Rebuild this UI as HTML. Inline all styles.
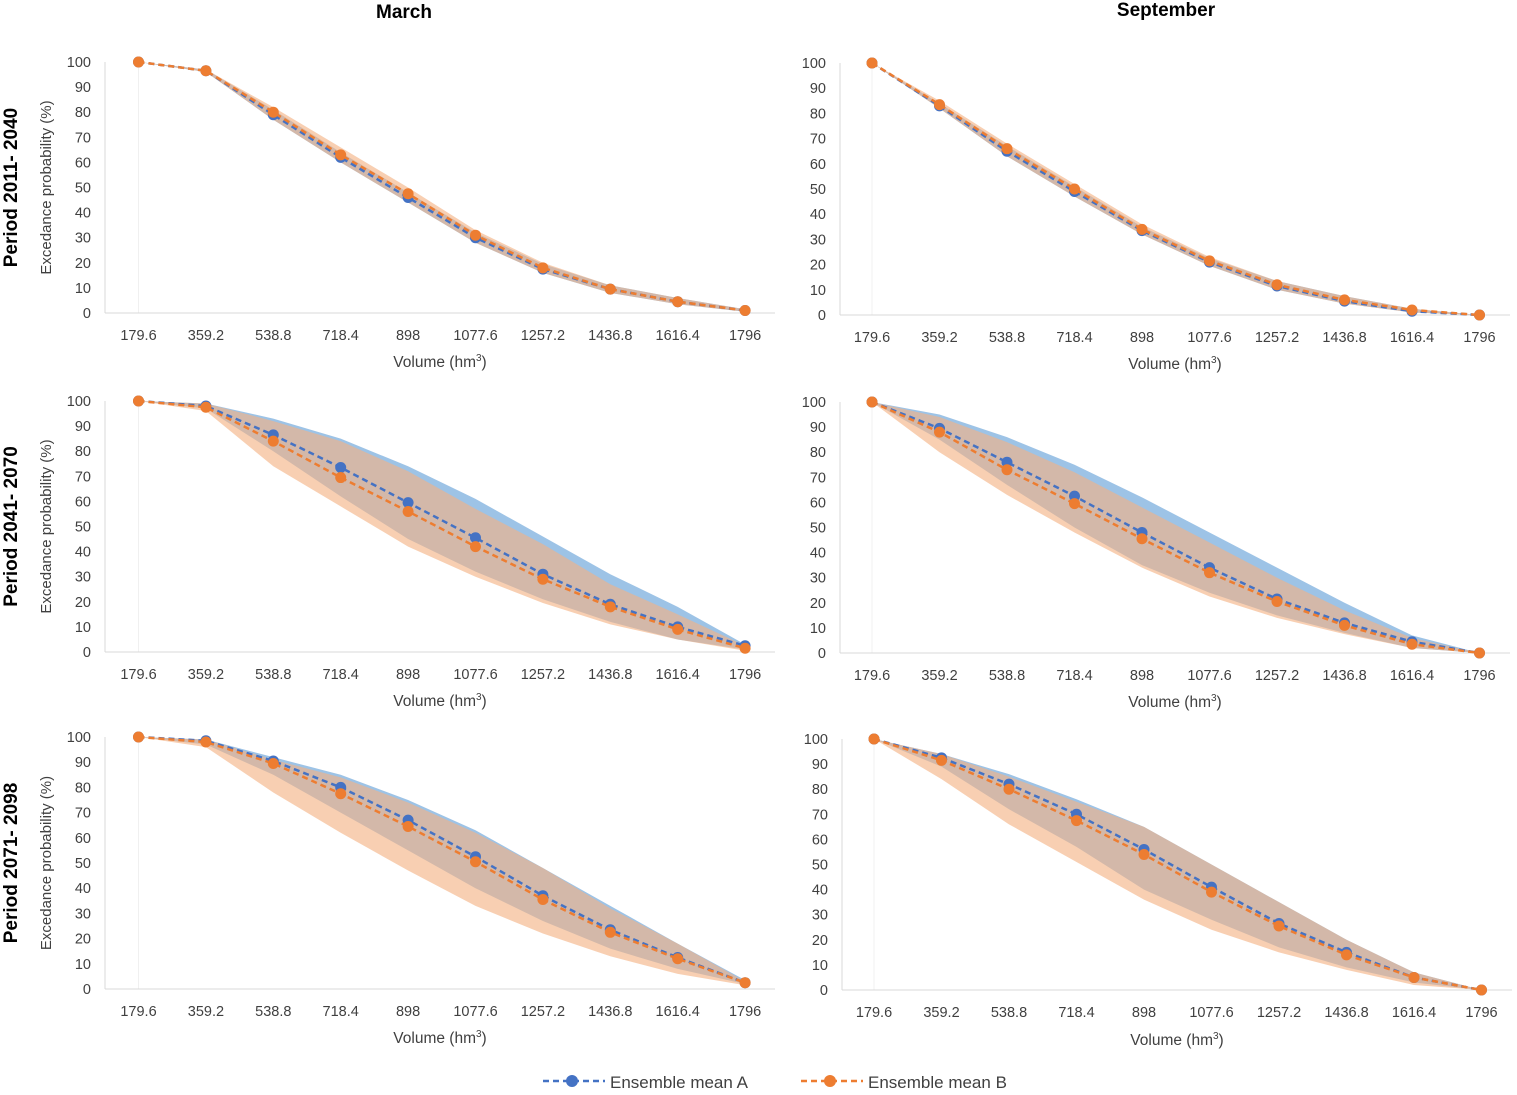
<!DOCTYPE html>
<html><head><meta charset="utf-8"><style>
body{margin:0;background:#fff;width:1517px;height:1090px;overflow:hidden}
svg text{font-family:"Liberation Sans",sans-serif;fill:#404040}
</style></head><body>
<svg id="c" width="1517" height="1090" xmlns="http://www.w3.org/2000/svg"></svg>
<script>
const categories=["179.6","359.2","538.8","718.4","898","1077.6","1257.2","1436.8","1616.4","1796"];
const yTicks=[0,10,20,30,40,50,60,70,80,90,100];
const rowTitles=["Period 2011- 2040","Period 2041- 2070","Period 2071- 2098"];
const colTitles=["March","September"];
const meanA=[
[100,96.5,79,62,46,30,17.5,9.5,4.5,1],
[100,83,65,49,33.5,21,11.5,5.5,1.5,0],
[100,98,86.5,73.5,59.5,45.5,31,19,10,2.5],
[100,89.5,76,62.5,48,34,21.5,12,4.5,0],
[100,98.5,90.5,80,67,52.5,37,23.5,12.5,2.5],
[100,92.5,82,70,56,41,26.5,15,5,0]];
const meanB=[
[100,96.5,80,63,47.5,31,18,9.5,4.5,1],
[100,83.5,66,50,34,21.5,12,6,2,0],
[100,97.5,84,69.5,56,42,29,18,9,1.5],
[100,88,73,59.5,45.5,32,20.5,11,3.5,0],
[100,98,89.5,77.5,64.5,50.5,35.5,22.5,12,2.5],
[100,91.5,80,67.5,54,39,25.5,14,5,0]];
const bandALow=[
[100,96,77,60,44,28,16,8,3.5,0.5],
[100,82,63,47,32,19.5,10,4.5,1,0],
[100,97,80,62,45,32,21,12,5,1],
[100,85,67,50,35,24,15,8,2,0],
[100,97,85,70,55,40,27,16,8,2],
[100,89,72,57,40,28,17,9,3,0]];
const bandAHigh=[
[100,97,81,64,48,32,19.5,11,6,1.5],
[100,84,67,51,35,22.5,13.5,7.5,2.5,0],
[100,99,93,85,74,61,46,31,18,3],
[100,95,86,75,62,48,34,20,7,0],
[100,99,92,85,75,63,48,33,18,3.5],
[100,94,86,76,65,50,35,20,7,0]];
const bandBLow=[
[100,96,77,60,44,28,16,8,3.5,0.5],
[100,82,63,47,32,19.5,10,4.5,1,0],
[100,96,74,58,42,30,19.5,11,5,0.5],
[100,80,63,48,34,22.5,14,7.5,2,0],
[100,96,78,62,47,33,22,13,6,1.5],
[100,84,66,51,36,24,15,8,2,0]];
const bandBHigh=[
[100,97,82,66,50,33,20,11,6,1.5],
[100,85,68,52,36,23,13.5,7.5,2.5,0],
[100,99,92,84,72,57,43,27,15,2.5],
[100,94,84,72,58,44,30,17,6,0],
[100,99,91,84,74,62,48,32,18,3],
[100,94,85,75,65,50,35,20,7,0]];
const panels=[
{x0:138.5,step:67.4,yTop:62,yBot:313,ax:105,lab:335,tit:362,right:775},
{x0:872,step:67.5,yTop:63,yBot:315,ax:840,lab:337,tit:364,right:1510},
{x0:138.5,step:67.4,yTop:401,yBot:652,ax:105,lab:674,tit:701,right:775},
{x0:872,step:67.5,yTop:402,yBot:653,ax:840,lab:675,tit:702,right:1510},
{x0:138.5,step:67.4,yTop:737,yBot:989,ax:105,lab:1011,tit:1038,right:775},
{x0:874,step:67.5,yTop:739,yBot:990,ax:842,lab:1012,tit:1040,right:1512}];
const NS="http://www.w3.org/2000/svg";
const svg=document.getElementById('c');
function mk(t,a,p){const e=document.createElementNS(NS,t);for(const k in a)e.setAttribute(k,a[k]);(p||svg).appendChild(e);return e;}
panels.forEach((P,pi)=>{
  const g=mk('g',{});
  
  
  const X=i=>P.x0+i*P.step, Y=v=>P.yBot-(v/100)*(P.yBot-P.yTop);
  const band=(lo,hi)=>{let d='';hi.forEach((v,i)=>d+=(i?'L':'M')+X(i)+','+Y(v));for(let i=lo.length-1;i>=0;i--)d+='L'+X(i)+','+Y(lo[i]);return d+'Z';};
  mk('line',{x1:X(0),x2:X(0),y1:P.yTop,y2:P.yBot,stroke:'#f0f0f0'},g);
  const ba=mk('path',{d:band(bandALow[pi],bandAHigh[pi]),fill:'#9dc3e6'},g);
  
  
  const bb=mk('path',{d:band(bandBLow[pi],bandBHigh[pi]),fill:'#f4b183','fill-opacity':0.62},g);
  
  
  mk('line',{x1:P.ax,x2:P.right,y1:P.yBot,y2:P.yBot,stroke:'#d9d9d9'},g);
  mk('line',{x1:P.ax,x2:P.ax,y1:P.yTop,y2:P.yBot,stroke:'#d9d9d9'},g);
  yTicks.forEach(t=>{const e=mk('text',{x:P.ax-14,y:Y(t)+5,'text-anchor':'end','font-size':14.5},g);e.textContent=t;
    
    });
  categories.forEach((c,i)=>{const e=mk('text',{x:X(i),y:P.lab+5,'text-anchor':'middle','font-size':14.5},g);e.textContent=c;
    
    });
  const t=mk('text',{x:(P.ax+P.right)/2,y:P.tit+5,'text-anchor':'middle','font-size':15.5},g);
  t.innerHTML='Volume (hm<tspan dy="-6" font-size="10">3</tspan><tspan dy="6">)</tspan>';
  
  
  [[meanA[pi],'#4472c4','series-a'],[meanB[pi],'#ed7d31','series-b']].forEach(([s,col,nm])=>{
    const l=mk('polyline',{points:s.map((v,i)=>X(i)+','+Y(v)).join(' '),fill:'none',stroke:col,'stroke-width':2.5,'stroke-dasharray':'6,4'},g);
    
    
    s.forEach((v,i)=>{const c=mk('circle',{cx:X(i),cy:Y(v),r:5.5,fill:col},g);
      
      });
  });
  if(pi%2===0){
    const yc=(P.yTop+P.yBot)/2;
    const e=mk('text',{transform:`translate(51,${yc}) rotate(-90)`,'text-anchor':'middle','font-size':15},g);e.textContent='Excedance probability (%)';
    
    
    const r=mk('text',{transform:`translate(17,${yc}) rotate(-90)`,'text-anchor':'middle','font-size':19,'font-weight':'bold',fill:'#000'},g);r.textContent=rowTitles[pi/2];
    r.style.fill='#000';
    
    
  }
});
[[404,18],[1166,16]].forEach(([x,y],i)=>{const e=mk('text',{x:x,y:y,'text-anchor':'middle','font-size':19,'font-weight':'bold'});e.textContent=colTitles[i];e.style.fill='#000';
  
  });
[[543,'#4472c4','Ensemble mean A'],[801,'#ed7d31','Ensemble mean B']].forEach(([x,col,txt])=>{
  const g=mk('g',{});
  
  
  mk('line',{x1:x,x2:x+62,y1:1081,y2:1081,stroke:col,'stroke-width':2.5,'stroke-dasharray':'6,4'},g);
  mk('circle',{cx:x+29,cy:1081,r:6,fill:col},g);
  const t=mk('text',{x:x+67,y:1088,'font-size':17},g);t.textContent=txt;
});
</script>
</body></html>
